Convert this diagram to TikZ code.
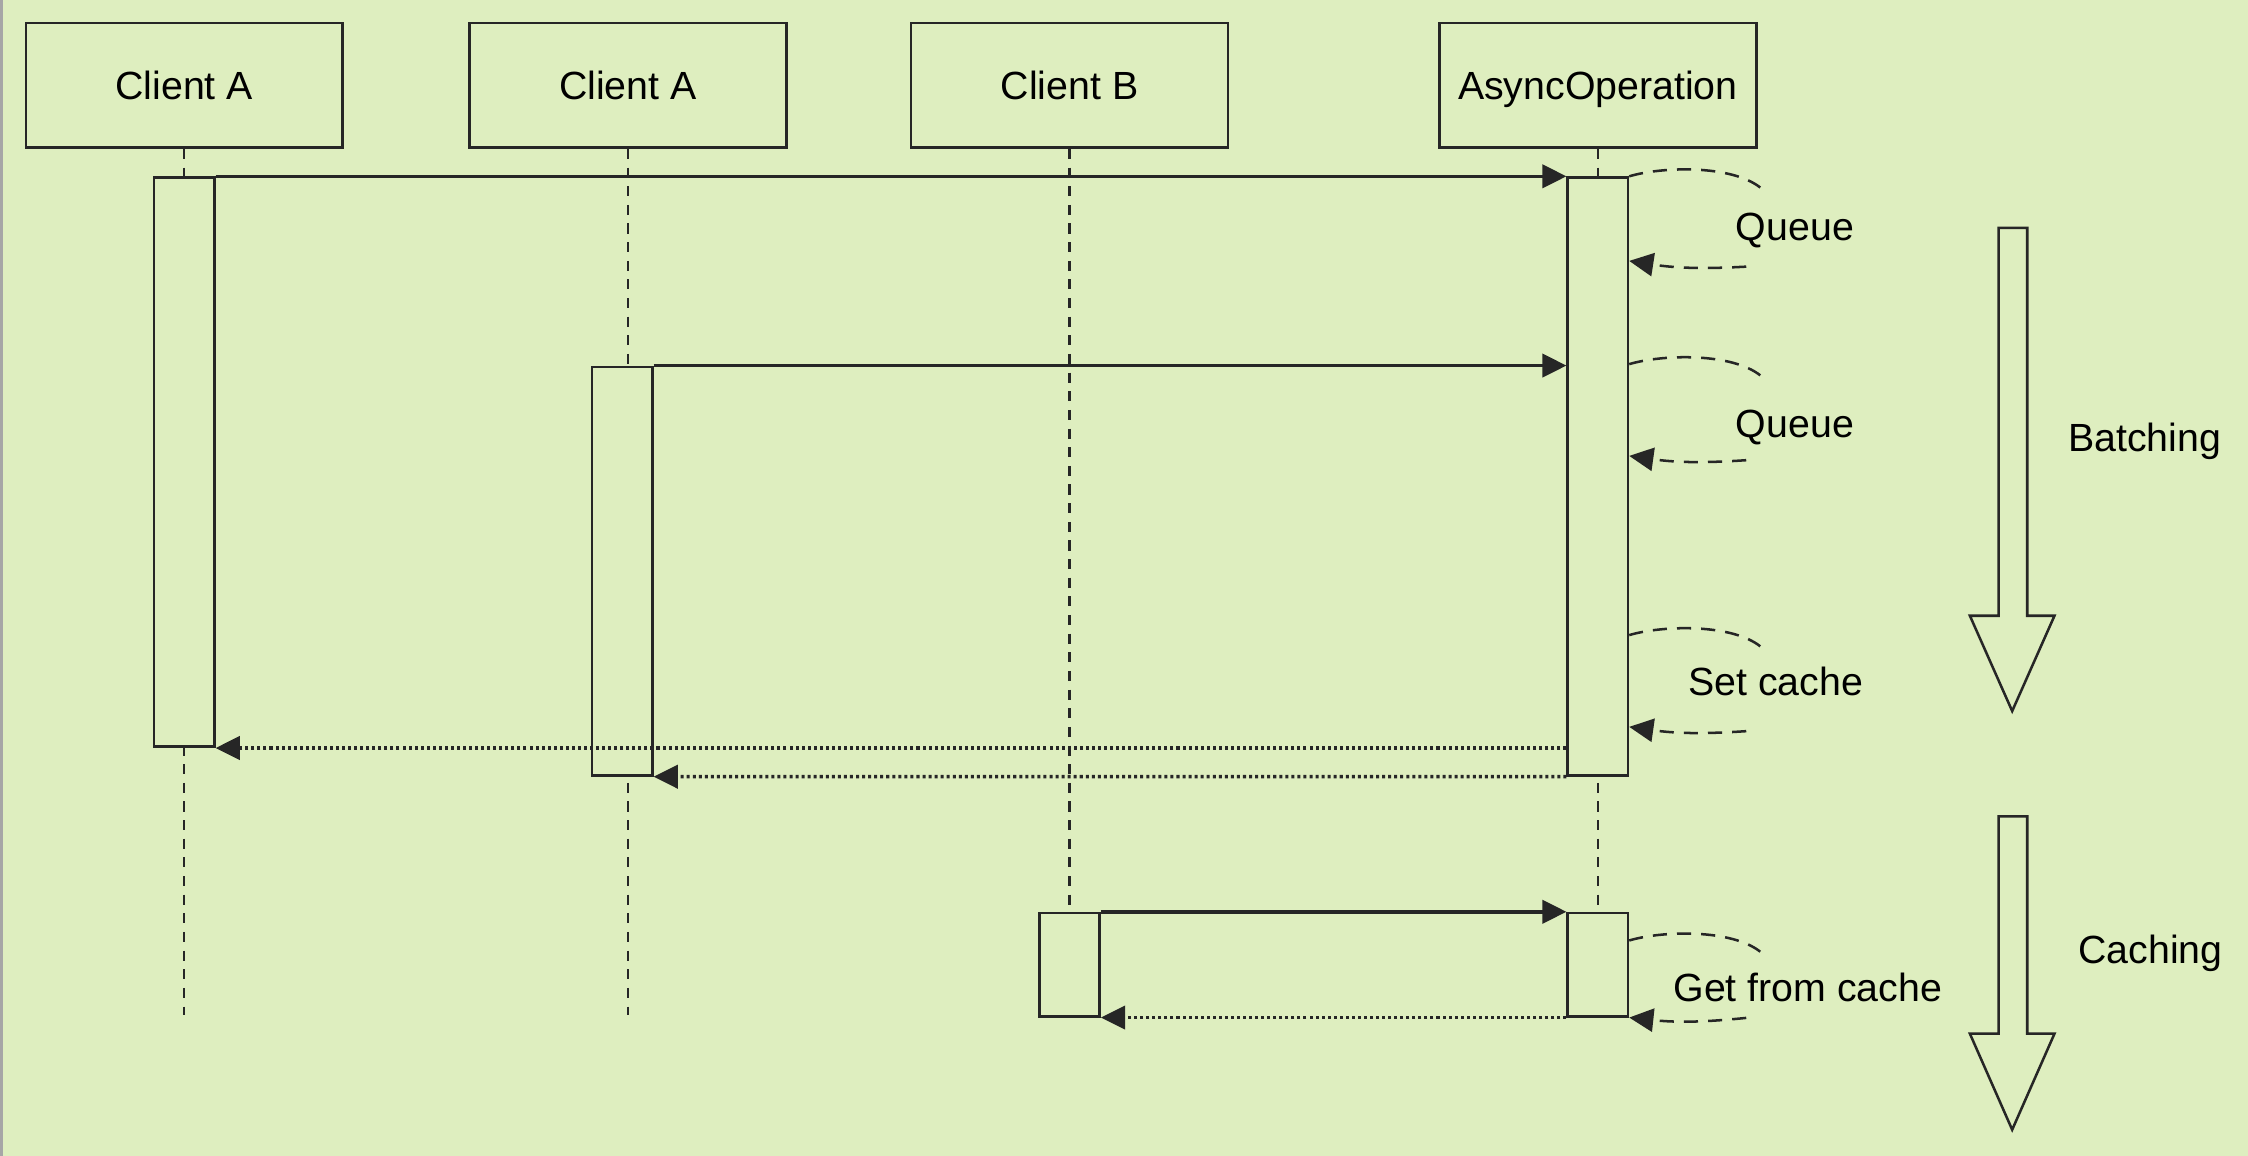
\documentclass[tikz,border=0pt]{standalone}
\usepackage{fontspec}
\setmainfont{Liberation Sans}
\usetikzlibrary{arrows.meta}
\definecolor{paper}{RGB}{222,238,191}
\definecolor{ink}{RGB}{38,38,38}

\begin{document}
\begin{tikzpicture}[
  font=\fontsize{7.8}{9}\selectfont,
  head/.style={draw=ink,line width=0.5pt,minimum width=2.21cm,minimum height=0.87cm,inner sep=0pt,text height=5.6pt,text depth=0pt},
  bar/.style={draw=ink,fill=paper,line width=0.5pt,minimum width=0.42cm,inner sep=0pt,anchor=north},
  life/.style={ink,line width=0.5pt,dash pattern=on 2pt off 1.7pt},
  tip/.style={-{Triangle[length=4.8pt,width=4.6pt]}},
  msg/.style={ink,line width=0.7pt,tip},
  reply/.style={ink,line width=0.7pt,dash pattern=on 0.6pt off 0.6pt,tip},
  selfarc/.style={ink,line width=0.5pt,dash pattern=on 2.8pt off 2pt},
  phase/.style={draw=ink,line width=0.5pt,fill=paper}
]
\fill[paper] (0,0) rectangle (15.68,8.06); %background
\useasboundingbox (0,0) rectangle (15.68,8.06);
\draw[gray!70,line width=0.6pt] (0.01,0) -- (0.01,8.06); %left edge

% heads
\node[head] (ca1) at (1.285,7.465) {Client A};
\node[head] (ca2) at (4.38,7.465) {Client A};
\node[head] (cb) at (7.46,7.465) {Client B};
\node[head] (op) at (11.145,7.465) {AsyncOperation};

% lifelines
\coordinate (lifeend) at (0,0.98);
\draw[life] (ca1.south) -- (ca1.south |- lifeend);
\draw[life] (ca2.south) -- (ca2.south |- lifeend);
\draw[life] (cb.south) -- (cb.south |- lifeend);
\draw[life] (op.south) -- (op.south |- lifeend);

% activations
\node[bar,minimum height=3.97cm] (actA) at (ca1.south |- 0,6.83) {};
\node[bar,minimum height=2.85cm] (actA2) at (4.34,5.51) {};
\node[bar,minimum height=0.72cm] (actB) at (cb.south |- 0,1.70) {};
\node[bar,minimum height=4.17cm] (actOp) at (op.south |- 0,6.83) {};
\node[bar,minimum height=0.72cm] (actOp2) at (op.south |- 0,1.70) {};

% calls
\draw[msg] (actA.north east) -- (actOp.north west);
\draw[msg] (actA2.north east) -- (actA2.north east -| actOp.west);
\draw[msg] (actB.north east) -- (actOp2.north west);

% returns
\draw[reply] (actA.south east -| actOp.west) -- (actA.south east);
\draw[reply] (actOp.south west) -- (actA2.south east);
\draw[reply] (actOp2.south west) -- (actB.south east);

% self calls
\draw[selfarc] (actOp.north east) .. controls (11.60,6.90) and (12.08,6.91) .. (12.28,6.75);
\draw[selfarc,tip] (12.18,6.20) to[bend left=6] (actOp.east |- 0,6.24);
\node (q1) at (12.52,6.45) {Queue};

\draw[selfarc] (actOp.east |- 0,5.52) .. controls (11.60,5.59) and (12.08,5.60) .. (12.28,5.44);
\draw[selfarc,tip] (12.18,4.85) to[bend left=6] (actOp.east |- 0,4.88);
\node (q2) at (12.52,5.08) {Queue};

\draw[selfarc] (actOp.east |- 0,3.63) .. controls (11.60,3.70) and (12.08,3.71) .. (12.28,3.55);
\draw[selfarc,tip] (12.18,2.96) to[bend left=6] (actOp.east |- 0,2.99);
\node (sc) at (12.385,3.31) {Set cache};

\draw[selfarc] (actOp2.east |- 0,1.50) .. controls (11.60,1.57) and (12.08,1.58) .. (12.28,1.42);
\draw[selfarc,tip] (12.18,0.96) to[bend left=6] (actOp2.south east);
\node (gc) at (12.61,1.17) {Get from cache};

% phases
\draw[phase] (13.94,6.47) -- (14.14,6.47) -- (14.14,3.765) -- (14.33,3.765) -- (14.035,3.10) -- (13.74,3.765) -- (13.94,3.765) -- cycle; %batching
\node (batch) at (14.96,4.98) {Batching};
\draw[phase] (13.94,2.365) -- (14.14,2.365) -- (14.14,0.85) -- (14.33,0.85) -- (14.035,0.18) -- (13.74,0.85) -- (13.94,0.85) -- cycle; %caching
\node (cache) at (15.00,1.41) {Caching};
\end{tikzpicture}
\end{document}
